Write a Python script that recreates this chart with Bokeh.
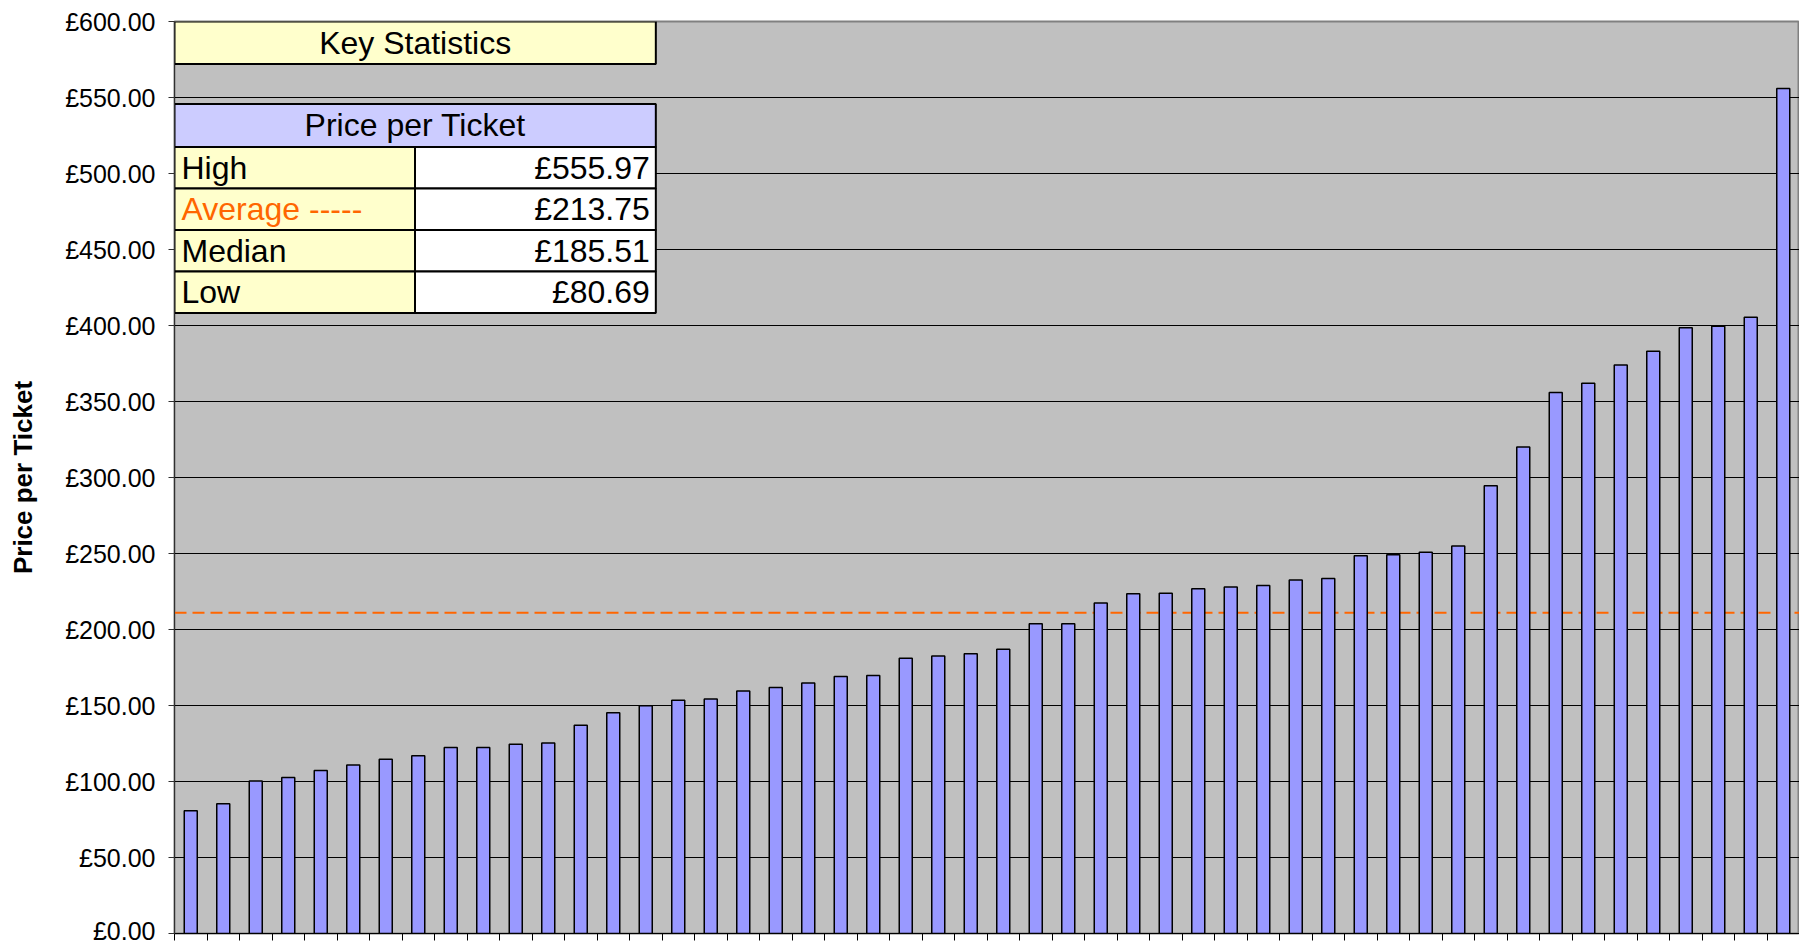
from bokeh.plotting import figure
from bokeh.models import FixedTicker, PrintfTickFormatter, CustomJSTickFormatter, Span, ColumnDataSource
from bokeh.core.properties import value
from bokeh.embed import file_html
from bokeh.resources import INLINE

# ---------------- data ----------------
prices = [80.69, 85.3, 100.4, 102.6, 107.2, 110.9, 114.7, 117.0, 122.3, 122.3,
          124.5, 125.3, 137.0, 145.2, 149.8, 153.5, 154.2, 159.5, 161.8, 164.8,
          169.0, 169.8, 181.1, 182.6, 184.02, 187.0, 203.8, 203.8, 217.5, 223.5,
          223.8, 226.8, 228.0, 229.0, 232.5, 233.5, 248.5, 249.2, 250.8, 255.0,
          294.5, 320.0, 356.0, 362.0, 374.0, 383.0, 398.5, 399.5, 405.5, 555.97]
y_ticks = [0, 50, 100, 150, 200, 250, 300, 350, 400, 450, 500, 550, 600]
average_line = 211.1
table_title = "Key Statistics"
table_header = "Price per Ticket"
stat_labels = ["High", "Average -----", "Median", "Low"]
stat_values = ["£555.97", "£213.75", "£185.51", "£80.69"]
stat_label_colors = ["#000000", "#FF6600", "#000000", "#000000"]

n = len(prices)
xs = list(range(1, n + 1))
FONT = "Liberation Sans"

p = figure(frame_width=1625, frame_height=912,
           x_range=(0.5, n + 0.5), y_range=(0, 600),
           output_backend="svg", toolbar_location=None,
           min_border_left=174, min_border_right=0,
           min_border_top=21, min_border_bottom=11)
p.background_fill_color = "#C0C0C0"
p.border_fill_color = "white"
p.outline_line_color = "#808080"
p.outline_line_width = 2

# grid
p.xgrid.visible = False
p.ygrid.ticker = FixedTicker(ticks=y_ticks)
p.ygrid.grid_line_color = "black"
p.ygrid.grid_line_width = 1

# y axis
p.yaxis.ticker = FixedTicker(ticks=y_ticks)
p.yaxis.formatter = PrintfTickFormatter(format="£%.2f")
p.yaxis.major_label_text_font = FONT
p.yaxis.major_label_text_font_size = "25px"
p.yaxis.major_label_text_color = "black"
p.yaxis.major_tick_out = 6
p.yaxis.major_tick_in = 0
p.yaxis.minor_tick_line_color = None
p.yaxis.major_label_standoff = 13
p.yaxis.axis_line_color = "#303030"
p.yaxis.major_tick_line_color = "#303030"
p.yaxis.axis_label = "Price per Ticket"
p.yaxis.axis_label_text_font = FONT
p.yaxis.axis_label_text_font_style = "bold"
p.yaxis.axis_label_text_font_size = "26px"
p.yaxis.axis_label_text_color = "black"
p.yaxis.axis_label_standoff = 24

# x axis
p.xaxis.ticker = FixedTicker(ticks=[i + 0.5 for i in range(n + 1)])
p.xaxis.formatter = CustomJSTickFormatter(code="return ''")
p.xaxis.major_label_text_font_size = "1px"
p.xaxis.major_label_standoff = 0
p.xaxis.major_tick_out = 7
p.xaxis.major_tick_in = 0
p.xaxis.minor_tick_line_color = None
p.xaxis.axis_line_color = "black"

# average line (behind bars)
avg = Span(location=average_line, dimension="width", line_color="#FF6600",
           line_width=2, line_dash="12 6", level="underlay")
p.add_layout(avg)

# bars
src = ColumnDataSource(dict(x=xs, top=prices))
p.vbar(x="x", top="top", bottom=0, width=0.4, source=src,
       fill_color="#9999FF", line_color="black", line_width=1.5)

# ---------------- key statistics table ----------------
t_left, t_split, t_right = 0.5, 7.9, 15.31
title_top, title_bot = 600, 572.1
head_top, head_bot = 545.8, 517.5
row_h = 27.3
row_tops = [head_bot - i * row_h for i in range(len(stat_labels))]
row_bots = [t - row_h for t in row_tops]

p.quad(left=[t_left], right=[t_right], top=[title_top], bottom=[title_bot],
       fill_color="#FFFFCC", line_color="black", line_width=2)
p.quad(left=[t_left], right=[t_right], top=[head_top], bottom=[head_bot],
       fill_color="#CCCCFF", line_color="black", line_width=2)
p.quad(left=[t_left] * len(row_tops), right=[t_split] * len(row_tops),
       top=row_tops, bottom=row_bots,
       fill_color="#FFFFCC", line_color="black", line_width=2)
p.quad(left=[t_split] * len(row_tops), right=[t_right] * len(row_tops),
       top=row_tops, bottom=row_bots,
       fill_color="white", line_color="black", line_width=2)

tc = (t_left + t_right) / 2
p.text(x=[tc], y=[(title_top + title_bot) / 2], text=[table_title],
       text_font=value(FONT), text_font_size="32px", text_align="center",
       text_baseline="middle", text_color="black")
p.text(x=[tc], y=[(head_top + head_bot) / 2], text=[table_header],
       text_font=value(FONT), text_font_size="32px", text_align="center",
       text_baseline="middle", text_color="black")
row_mid = [(a + b) / 2 for a, b in zip(row_tops, row_bots)]
lab_src = ColumnDataSource(dict(x=[t_left] * len(stat_labels), y=row_mid,
                                text=stat_labels, color=stat_label_colors))
p.text(x="x", y="y", text="text", text_color="color", source=lab_src,
       text_font=value(FONT), text_font_size="32px", text_align="left",
       text_baseline="middle", x_offset=7)
val_src = ColumnDataSource(dict(x=[t_right] * len(stat_values), y=row_mid,
                                text=stat_values))
p.text(x="x", y="y", text="text", source=val_src, text_color="black",
       text_font=value(FONT), text_font_size="32px", text_align="right",
       text_baseline="middle", x_offset=-6)

open("out.html", "w").write(file_html(p, INLINE))
